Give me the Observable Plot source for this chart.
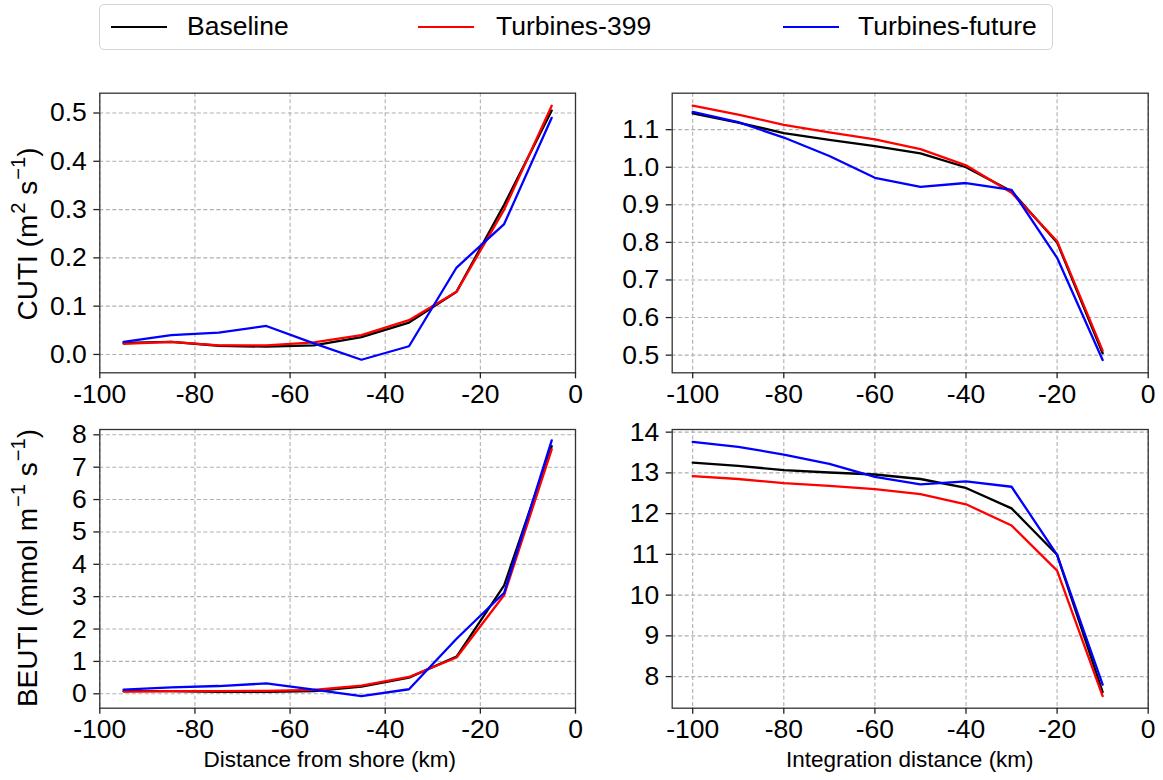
<!DOCTYPE html>
<html>
<head>
<meta charset="utf-8">
<script src="https://cdn.jsdelivr.net/npm/d3@7"></script>
<script src="https://cdn.jsdelivr.net/npm/@observablehq/plot@0.6"></script>
<style>
  html, body { margin: 0; padding: 0; background: #fff; }
  #fig { position: relative; width: 1163px; height: 780px; font-family: "Liberation Sans", Arial, sans-serif; color: #000; overflow: hidden; }
  .panel { position: absolute; }
  .lbl { position: absolute; white-space: nowrap; font-size: 22.5px; line-height: 1; }
  .ylbl { position: absolute; white-space: nowrap; font-size: 28px; line-height: 1; transform: translate(-50%, -50%) rotate(-90deg); }
  .ylbl sup { font-size: 0.72em; vertical-align: 0.6em; line-height: 0; margin-left: 1px; }
  #legend { position: absolute; left: 99px; top: 4px; width: 954px; height: 46px; border: 1.5px solid #d4d4d4; border-radius: 5px; box-sizing: border-box; background: #fff; }
  .li { position: absolute; top: 0; height: 43px; display: flex; align-items: center; font-size: 26.5px; }
  .sw { position: absolute; top: 21px; width: 56px; height: 2.2px; }
</style>
</head>
<body>
<div id="fig"></div>
<script>
// ---- data ----
const seriesNames = ["Baseline", "Turbines-399", "Turbines-future"];
const seriesColors = ["#000000", "#ff0000", "#0000ff"];

const distShore = [-95, -85, -75, -65, -55, -45, -35, -25, -15, -5];
const distInteg = [-100, -90, -80, -70, -60, -50, -40, -30, -20, -10];

const cutiBaseline = [0.024, 0.026, 0.018, 0.016, 0.019, 0.036, 0.066, 0.130, 0.310, 0.505];
const cuti399      = [0.022, 0.026, 0.019, 0.019, 0.025, 0.040, 0.071, 0.130, 0.300, 0.515];
const cutiFuture   = [0.026, 0.040, 0.045, 0.059, 0.023, -0.011, 0.017, 0.180, 0.270, 0.490];

const cutiIntBaseline = [1.143, 1.119, 1.091, 1.073, 1.056, 1.037, 1.000, 0.936, 0.800, 0.505];
const cutiInt399      = [1.164, 1.140, 1.113, 1.093, 1.074, 1.048, 1.005, 0.932, 0.803, 0.512];
const cutiIntFuture   = [1.147, 1.120, 1.079, 1.030, 0.972, 0.948, 0.958, 0.940, 0.759, 0.487];

const beutiBaseline = [0.08, 0.08, 0.06, 0.06, 0.08, 0.22, 0.50, 1.15, 3.35, 7.65];
const beuti399      = [0.07, 0.08, 0.08, 0.09, 0.12, 0.25, 0.52, 1.12, 3.05, 7.55];
const beutiFuture   = [0.13, 0.20, 0.24, 0.32, 0.13, -0.07, 0.14, 1.70, 3.12, 7.83];

const beutiIntBaseline = [13.25, 13.17, 13.07, 13.01, 12.96, 12.85, 12.63, 12.13, 10.99, 7.62];
const beutiInt399      = [12.92, 12.85, 12.75, 12.68, 12.60, 12.48, 12.23, 11.71, 10.60, 7.52];
const beutiIntFuture   = [13.76, 13.64, 13.45, 13.22, 12.90, 12.72, 12.79, 12.66, 10.99, 7.80];

const xTicks = [-100, -80, -60, -40, -20, 0];
const cutiTicks = [0.0, 0.1, 0.2, 0.3, 0.4, 0.5];
const cutiIntTicks = [0.5, 0.6, 0.7, 0.8, 0.9, 1.0, 1.1];
const beutiTicks = [0, 1, 2, 3, 4, 5, 6, 7, 8];
const beutiIntTicks = [8, 9, 10, 11, 12, 13, 14];

// ---- helpers ----
function toRows(xs, arrays) {
  const rows = [];
  arrays.forEach((arr, k) => arr.forEach((v, i) => rows.push({x: xs[i], y: v, s: seriesNames[k]})));
  return rows;
}
const fig = document.getElementById("fig");
const FONT = "'Liberation Sans', Arial, sans-serif";

function panel({left, top, width, height, mt, mr, mb, ml, xDomain, yDomain, yTicks, yFmt, xs, arrays}) {
  const rows = toRows(xs, arrays);
  const p = Plot.plot({
    width, height,
    marginTop: mt, marginRight: mr, marginBottom: mb, marginLeft: ml,
    style: {fontFamily: FONT, fontSize: "26.5px", color: "#000", background: "transparent", overflow: "visible"},
    x: {domain: xDomain, label: null},
    y: {domain: yDomain, label: null},
    color: {domain: seriesNames, range: seriesColors},
    marks: [
      Plot.gridX(xTicks, {stroke: "#b0b0b0", strokeOpacity: 1, strokeWidth: 1.1, strokeDasharray: "4,2.5"}),
      Plot.gridY(yTicks, {stroke: "#b0b0b0", strokeOpacity: 1, strokeWidth: 1.1, strokeDasharray: "4,2.5"}),
      Plot.line(rows, {x: "x", y: "y", z: "s", stroke: "s", strokeWidth: 2.3}),
      Plot.frame({stroke: "#333", strokeWidth: 1.3}),
      Plot.axisX({ticks: xTicks, tickFormat: d => String(d), tickSize: 6, tickPadding: 5, stroke: "#222", strokeWidth: 1.3, fontSize: 26.5}),
      Plot.axisY({ticks: yTicks, tickFormat: yFmt, tickSize: 6, tickPadding: 7, stroke: "#222", strokeWidth: 1.3, fontSize: 26.5})
    ]
  });
  p.classList.add("panel");
  p.style.left = left + "px";
  p.style.top = top + "px";
  fig.appendChild(p);
}

const fmt1 = d => d.toFixed(1);
const fmt0 = d => String(d);

panel({left: 0, top: 60, width: 590, height: 360, mt: 32.7, mr: 15, mb: 47.7, ml: 99.3,
  xDomain: [-100, 0], yDomain: [-0.038, 0.541], yTicks: cutiTicks, yFmt: fmt1,
  xs: distShore, arrays: [cutiBaseline, cuti399, cutiFuture]});
panel({left: 590, top: 60, width: 573, height: 360, mt: 32.7, mr: 15.3, mb: 47.7, ml: 81.7,
  xDomain: [-104.5, 0], yDomain: [0.453, 1.197], yTicks: cutiIntTicks, yFmt: fmt1,
  xs: distInteg, arrays: [cutiIntBaseline, cutiInt399, cutiIntFuture]});
panel({left: 0, top: 410, width: 590, height: 340, mt: 19, mr: 15, mb: 42.3, ml: 99.3,
  xDomain: [-100, 0], yDomain: [-0.445, 8.164], yTicks: beutiTicks, yFmt: fmt0,
  xs: distShore, arrays: [beutiBaseline, beuti399, beutiFuture]});
panel({left: 590, top: 410, width: 573, height: 340, mt: 19, mr: 15.3, mb: 42.3, ml: 81.7,
  xDomain: [-104.5, 0], yDomain: [7.224, 14.065], yTicks: beutiIntTicks, yFmt: fmt0,
  xs: distInteg, arrays: [beutiIntBaseline, beutiInt399, beutiIntFuture]});

// ---- axis labels ----
function addLabel(html, cls, x, y) {
  const d = document.createElement("div");
  d.className = cls;
  d.innerHTML = html;
  d.style.left = x + "px";
  d.style.top = y + "px";
  fig.appendChild(d);
  return d;
}
const xl1 = addLabel("Distance from shore (km)", "lbl", 0, 749);
xl1.style.left = (330 - xl1.offsetWidth / 2) + "px";
const xl2 = addLabel("Integration distance (km)", "lbl", 0, 749);
xl2.style.left = (910 - xl2.offsetWidth / 2) + "px";
addLabel("CUTI (m<sup>2</sup> s<sup>−1</sup>)", "ylbl", 28, 234);
addLabel("BEUTI (mmol m<sup>−1</sup> s<sup>−1</sup>)", "ylbl", 28, 568);

// ---- legend ----
const leg = document.createElement("div");
leg.id = "legend";
fig.appendChild(leg);
const swX = [11, 318, 683];
const txX = [87, 396, 758];
seriesNames.forEach((n, i) => {
  const sw = document.createElement("div");
  sw.className = "sw";
  sw.style.left = swX[i] + "px";
  sw.style.background = seriesColors[i];
  leg.appendChild(sw);
  const t = document.createElement("div");
  t.className = "li";
  t.style.left = txX[i] + "px";
  t.textContent = n;
  leg.appendChild(t);
});
</script>
</body>
</html>
